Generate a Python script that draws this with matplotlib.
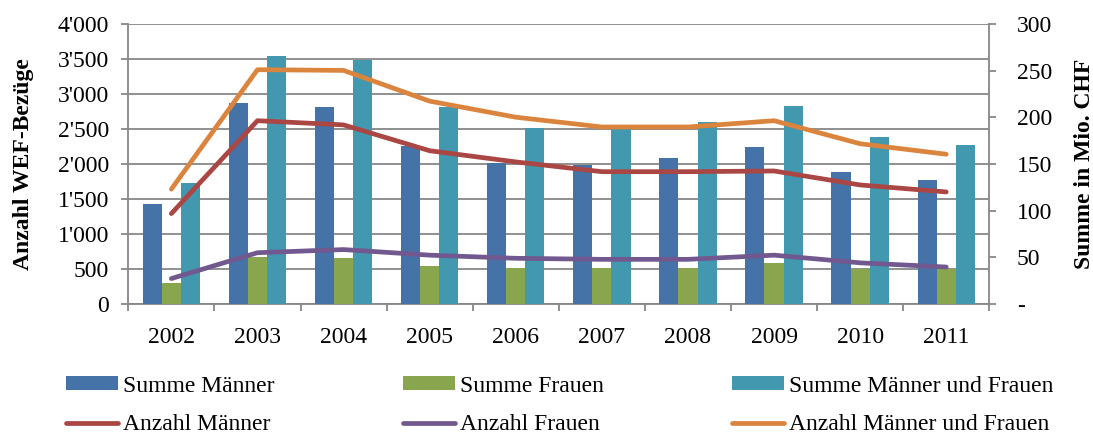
import matplotlib
matplotlib.use("Agg")
import matplotlib.pyplot as plt
import numpy as np
from matplotlib.ticker import FuncFormatter, FixedLocator

plt.rcParams['font.family'] = ['Liberation Serif', 'DejaVu Serif']

years = ['2002', '2003', '2004', '2005', '2006', '2007', '2008', '2009', '2010', '2011']
summe_maenner = [107, 215, 211, 169, 151, 149, 156, 168, 141, 133]
summe_frauen = [22, 50, 49, 41, 38, 38, 38, 44, 37, 37]
summe_total = [130, 266, 262, 211, 189, 189, 195, 212, 179, 170]
anzahl_maenner = [1290, 2620, 2560, 2190, 2030, 1890, 1890, 1900, 1700, 1600]
anzahl_frauen = [360, 730, 775, 695, 650, 635, 635, 695, 585, 525]
anzahl_total = [1640, 3350, 3340, 2900, 2670, 2530, 2530, 2620, 2290, 2140]

c_blue = '#4572A7'
c_green = '#89A54E'
c_teal = '#4198AF'
c_red = '#AA4643'
c_purple = '#71588F'
c_orange = '#DB843D'
grid_c = '#878787'
fs = 17

fig = plt.figure(figsize=(10.93, 4.34), dpi=100)
rect = [128.3 / 1093, 130.3 / 434, (989.3 - 128.3) / 1093, (303.7 - 24.3) / 434]
axg = fig.add_axes(rect)
x = np.arange(len(years))

# base axis: grid + left scale (Anzahl)
axg.set_ylim(0, 4000)
axg.set_xlim(-0.5, len(years) - 0.5)
axg.set_yticks(np.arange(0, 4001, 500))
axg.yaxis.set_major_formatter(FuncFormatter(lambda v, p: f"{int(v):,}".replace(",", "'")))
axg.grid(axis='y', color=grid_c, linewidth=1.3)
axg.set_axisbelow(True)
axg.set_xticks(x)
axg.set_xticklabels(years)
axg.xaxis.set_minor_locator(FixedLocator(np.arange(-0.5, len(years), 1.0)))
axg.tick_params(axis='x', which='major', length=0, pad=16.5, labelsize=fs)
axg.tick_params(axis='x', which='minor', length=5, width=1.3, color=grid_c)
axg.tick_params(axis='y', length=4.8, width=1.3, color=grid_c, pad=9, labelsize=fs)
for s in ['top', 'right']:
    axg.spines[s].set_visible(False)
for s in ['left', 'bottom']:
    axg.spines[s].set_color(grid_c)
    axg.spines[s].set_linewidth(1.3)
axg.set_ylabel('Anzahl WEF-Bezüge', fontsize=fs, fontweight='bold', labelpad=17)

# bars on right scale (Summe)
axb = axg.twinx()
axb.set_ylim(0, 300)
w = 0.222
b1 = axb.bar(x - w, summe_maenner, w, color=c_blue, label='Summe Männer')
b2 = axb.bar(x, summe_frauen, w, color=c_green, label='Summe Frauen')
b3 = axb.bar(x + w, summe_total, w, color=c_teal, label='Summe Männer und Frauen')
axb.set_yticks(np.arange(0, 301, 50))
axb.yaxis.set_major_formatter(FuncFormatter(lambda v, p: '-' if v == 0 else f"{int(v)}"))
axb.tick_params(axis='y', length=4.8, width=1.3, color=grid_c, pad=15, labelsize=fs)
for s in ['top', 'left', 'bottom']:
    axb.spines[s].set_visible(False)
axb.spines['right'].set_color(grid_c)
axb.spines['right'].set_linewidth(1.3)
axb.set_ylabel('Summe in Mio. CHF', fontsize=fs, fontweight='bold', labelpad=15.5)

# lines on left scale (Anzahl), drawn above bars
axl = axg.twinx()
axl.set_ylim(0, 4000)
axl.set_axis_off()
lw = 3.4
l1, = axl.plot(x, anzahl_maenner, color=c_red, lw=lw, solid_capstyle='round', solid_joinstyle='round', label='Anzahl Männer')
l2, = axl.plot(x, anzahl_frauen, color=c_purple, lw=lw, solid_capstyle='round', solid_joinstyle='round', label='Anzahl Frauen')
l3, = axl.plot(x, anzahl_total, color=c_orange, lw=lw, solid_capstyle='round', solid_joinstyle='round', label='Anzahl Männer und Frauen')

handles = [b1, l1, b2, l2, b3, l3]
labels = [h.get_label() for h in handles]
leg = fig.legend(handles, labels, ncol=3, loc='upper left', bbox_to_anchor=(66 / 1093, 1 - 375.5 / 434),
                 frameon=False, fontsize=fs, handlelength=2.19, handleheight=0.54, handletextpad=0.21,
                 columnspacing=5.45, labelspacing=0.76, borderpad=0, borderaxespad=0)

fig.savefig('out.png', dpi=100)
